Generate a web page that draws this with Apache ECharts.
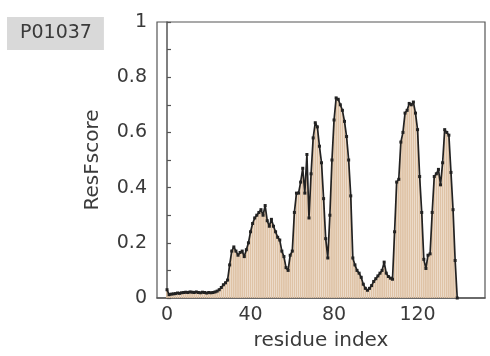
<!DOCTYPE html>
<html>
<head>
<meta charset="utf-8">
<script src="https://cdn.jsdelivr.net/npm/echarts@6/dist/echarts.min.js"></script>
<style>html,body{margin:0;padding:0;background:#fff;}#c{width:490px;height:356px;}</style>
</head>
<body>
<div id="c"></div>
<script>
// ResFscore per residue, residue index = array position (0..139)
const resfScore = [
  0.030, 0.012, 0.014, 0.015, 0.016, 0.018, 0.017, 0.019, 0.020, 0.021,
  0.020, 0.022, 0.021, 0.020, 0.022, 0.020, 0.019, 0.021, 0.020, 0.018,
  0.020, 0.019, 0.020, 0.022, 0.025, 0.030, 0.038, 0.048, 0.055, 0.065,
  0.120, 0.170, 0.185, 0.170, 0.155, 0.165, 0.170, 0.150, 0.175, 0.200,
  0.240, 0.270, 0.290, 0.300, 0.310, 0.320, 0.300, 0.335, 0.280, 0.260,
  0.285, 0.260, 0.240, 0.220, 0.210, 0.170, 0.150, 0.110, 0.100, 0.155,
  0.170, 0.310, 0.380, 0.380, 0.420, 0.470, 0.380, 0.520, 0.290, 0.450,
  0.580, 0.635, 0.620, 0.550, 0.490, 0.360, 0.215, 0.145, 0.300, 0.500,
  0.645, 0.725, 0.720, 0.700, 0.680, 0.640, 0.585, 0.500, 0.370, 0.145,
  0.120, 0.100, 0.090, 0.075, 0.050, 0.035, 0.028, 0.035, 0.045, 0.060,
  0.070, 0.080, 0.090, 0.100, 0.130, 0.090, 0.078, 0.072, 0.068, 0.240,
  0.420, 0.430, 0.565, 0.600, 0.670, 0.680, 0.705, 0.700, 0.710, 0.670,
  0.610, 0.440, 0.310, 0.140, 0.107, 0.155, 0.160, 0.310, 0.440, 0.450,
  0.466, 0.410, 0.490, 0.610, 0.600, 0.590, 0.455, 0.320, 0.136, 0.000
];
const xTickLabels = [0, 40, 80, 120];
const yTickLabels = ['0', '0.2', '0.4', '0.6', '0.8', '1'];
const panelLabel = 'P01037';
const xName = 'residue index';
const yName = 'ResFscore';

const pts = resfScore.map((v, i) => [i, v]);
const FONT = 'DejaVu Sans';
const chart = echarts.init(document.getElementById('c'), null, {renderer: 'canvas'});
chart.setOption({
  animation: false,
  backgroundColor: '#fff',
  title: {
    text: panelLabel, left: 7, top: 17,
    backgroundColor: '#d9d9d9',
    padding: [7, 12, 7, 13],
    textStyle: {fontFamily: FONT, fontSize: 19, fontWeight: 'normal', color: '#3a3a3a', lineHeight: 19}
  },
  grid: {left: 157, top: 22, right: 5, bottom: 56, show: true, borderColor: '#555', borderWidth: 1.2, backgroundColor: 'transparent'},
  xAxis: {
    type: 'value', min: -4.8, max: 152.3,
    name: xName, nameLocation: 'middle', nameGap: 33,
    nameTextStyle: {fontFamily: FONT, fontSize: 20, color: '#3a3a3a'},
    axisLine: {show: true, lineStyle: {color: '#555', width: 1.5}},
    axisTick: {show: false},
    splitLine: {show: false},
    axisLabel: {customValues: xTickLabels, fontFamily: FONT, fontSize: 19, color: '#3a3a3a', margin: 8}
  },
  yAxis: {
    type: 'value', min: 0, max: 1, interval: 0.1,
    name: yName, nameLocation: 'middle', nameGap: 54,
    nameTextStyle: {fontFamily: FONT, fontSize: 20, color: '#3a3a3a'},
    axisLine: {show: true, lineStyle: {color: '#555', width: 1.5}},
    axisTick: {show: true, inside: true, length: 4, lineStyle: {color: '#555', width: 1.2}},
    splitLine: {show: false},
    axisLabel: {
      fontFamily: FONT, fontSize: 19, color: '#3a3a3a', margin: 10,
      formatter: v => {
        const s = String(Math.round(v * 10) / 10);
        return yTickLabels.indexOf(s) >= 0 ? s : '';
      }
    }
  },
  series: [
    {
      type: 'bar', data: pts, barWidth: 1.8,
      itemStyle: {color: '#dfc3a6'},
      silent: true
    },
    {
      type: 'line', data: pts,
      symbol: 'rect', symbolSize: 3, showSymbol: true,
      lineStyle: {color: '#222', width: 1.7},
      itemStyle: {color: '#222'},
      silent: true
    }
  ]
});
</script>
</body>
</html>
